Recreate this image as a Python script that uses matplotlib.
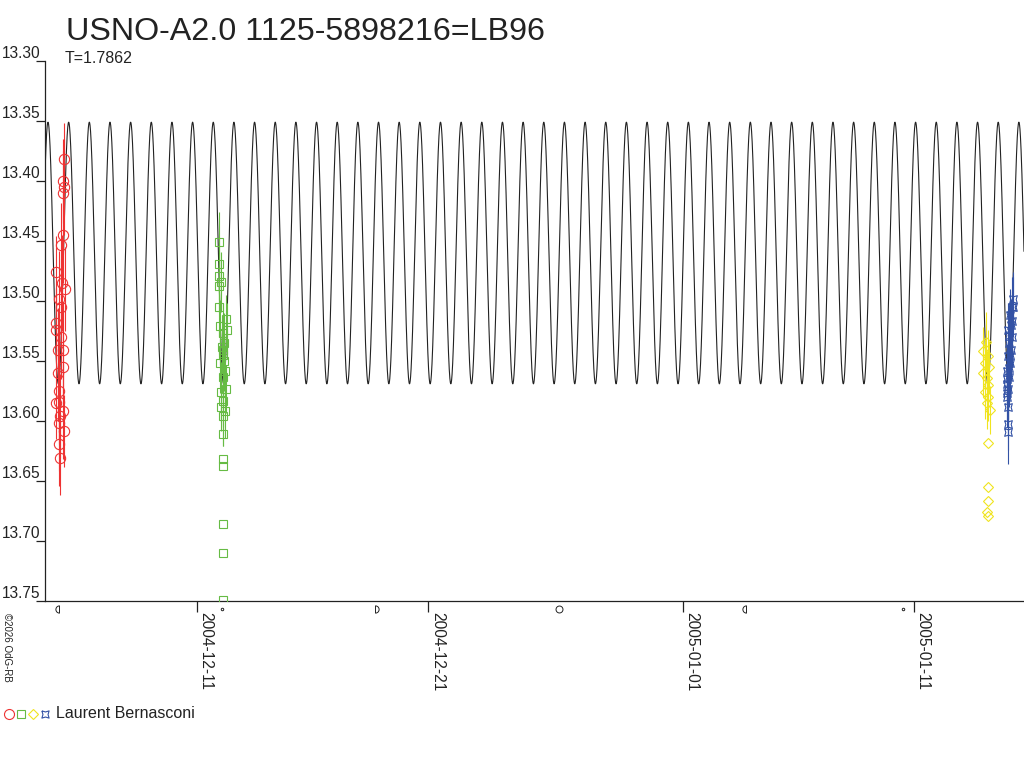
import numpy as np
import matplotlib
matplotlib.use("Agg")
import matplotlib.pyplot as plt
from matplotlib.path import Path
from matplotlib.transforms import Affine2D, blended_transform_factory
from matplotlib.lines import Line2D
from datetime import datetime

plt.rcParams['font.family'] = ['Liberation Sans', 'DejaVu Sans']

# ---------------- data ----------------
title = "USNO-A2.0 1125-5898216=LB96"
period_label = "T=1.7862"
observer = "Laurent Bernasconi"
copyright_txt = "\u00a92026 OdG-RB"

base_date = datetime(2004, 12, 11)          # t = days since this date (UT)
x_tick_dates = ["2004-12-11", "2004-12-21", "2005-01-01", "2005-01-11"]
y_ticks = [13.30, 13.35, 13.40, 13.45, 13.50, 13.55, 13.60, 13.65, 13.70, 13.75]
t_min, t_max = -6.572, 35.755

# fitted light-curve model (double wave, period T)
T_period = 1.7862
model_epoch = -6.442
model_mean = 13.460
model_semi_amp = 0.109

# moon phases (UT)
moon_last_q = ["2004-12-05 00:53", "2005-01-03 17:46"]
moon_new = ["2004-12-12 01:29", "2005-01-10 12:03"]
moon_first_q = ["2004-12-18 16:40"]
moon_full = ["2004-12-26 15:06"]

# observations: time (days since 2004-12-11), magnitude, error
red_t = [-5.750, -5.780, -5.750, -5.806, -5.806, -5.867, -6.096, -5.837, -5.720, -5.953,
         -6.096, -6.096, -5.780, -6.010, -5.780, -6.010, -5.979, -6.096, -5.780, -5.923,
         -5.979, -5.750, -5.979, -5.923, -5.900, -5.860, -5.950]
red_m = [13.382, 13.400, 13.405, 13.410, 13.445, 13.453, 13.476, 13.485, 13.490, 13.498,
         13.518, 13.524, 13.541, 13.541, 13.555, 13.560, 13.584, 13.585, 13.592, 13.596,
         13.602, 13.608, 13.619, 13.631, 13.505, 13.530, 13.575]
red_e = [0.030, 0.035, 0.040, 0.035, 0.040, 0.035, 0.030, 0.040, 0.035, 0.040,
         0.030, 0.035, 0.040, 0.035, 0.030, 0.040, 0.035, 0.030, 0.040, 0.035,
         0.040, 0.030, 0.035, 0.031, 0.040, 0.035, 0.040]

green_t = [0.951, 0.951, 0.951, 1.025, 0.951, 0.951, 0.994, 1.241, 1.284, 1.137,
           1.137, 0.994, 1.211, 1.137, 1.254, 1.025, 1.137, 1.025, 1.211, 1.137,
           1.111, 1.111, 1.111, 1.111, 1.111, 1.111, 1.150, 1.120, 1.160, 1.100]
green_m = [13.451, 13.469, 13.479, 13.484, 13.4875, 13.505, 13.521, 13.515, 13.524, 13.527,
           13.541, 13.552, 13.558, 13.563, 13.573, 13.576, 13.583, 13.588, 13.592, 13.596,
           13.611, 13.632, 13.6375, 13.686, 13.710, 13.749, 13.535, 13.545, 13.550, 13.538]
green_e = [0.025, 0.022, 0.020, 0.025, 0.022, 0.025, 0.022, 0.020, 0.022, 0.025,
           0.022, 0.025, 0.020, 0.022, 0.020, 0.025, 0.022, 0.020, 0.022, 0.025,
           0.010, 0.0, 0.0, 0.0, 0.0, 0.0, 0.025, 0.022, 0.025, 0.022]

yellow_t = [34.099, 33.995, 34.211, 34.068, 34.241, 33.995, 34.142, 34.211, 34.068, 34.211,
            34.142, 34.284, 34.185, 34.185, 34.185, 34.142, 34.185]
yellow_m = [13.534, 13.542, 13.546, 13.552, 13.555, 13.560, 13.564, 13.570, 13.576, 13.580,
            13.585, 13.591, 13.618, 13.655, 13.667, 13.676, 13.679]
yellow_e = [0.025, 0.020, 0.022, 0.020, 0.022, 0.020, 0.022, 0.020, 0.022, 0.020,
            0.022, 0.020, 0.0, 0.0, 0.0, 0.0, 0.0]

blue_t = [35.292, 35.223, 35.149, 35.249, 35.076, 35.223, 35.106, 35.193, 35.050, 35.149,
          35.006, 35.106, 35.006, 35.076, 35.019, 35.076, 35.050, 35.076,
          35.270, 35.200, 35.120, 35.160, 35.090, 35.040, 35.030]
blue_m = [13.498, 13.505, 13.512, 13.517, 13.524, 13.530, 13.535, 13.541, 13.546, 13.552,
          13.558, 13.563, 13.569, 13.573, 13.577, 13.588, 13.6025, 13.609,
          13.505, 13.520, 13.528, 13.545, 13.556, 13.565, 13.580]
blue_e = [0.022, 0.025, 0.022, 0.025, 0.022, 0.025, 0.022, 0.025, 0.022, 0.025,
          0.022, 0.025, 0.022, 0.025, 0.022, 0.025, 0.022, 0.027,
          0.025, 0.022, 0.025, 0.022, 0.025, 0.022, 0.025]

# ---------------- styles ----------------
RED = "#ee3333"
GREEN = "#66bb44"
YELLOW = "#f0e41e"
BLUE = "#3352a5"
INK = "#222222"

W, H = 1024, 768
fig = plt.figure(figsize=(W / 100, H / 100), dpi=100)
ax_l, ax_r, ax_t, ax_b = 45, 1024, 61, 601
ax = fig.add_axes([ax_l / W, 1 - ax_b / H, (ax_r - ax_l) / W, (ax_b - ax_t) / H])


def to_t(s):
    d = datetime.strptime(s, "%Y-%m-%d %H:%M") if " " in s else datetime.strptime(s, "%Y-%m-%d")
    return (d - base_date).total_seconds() / 86400.0


# model curve
tt = np.linspace(t_min, t_max, 8000)
mm = model_mean - model_semi_amp * np.cos(4 * np.pi * (tt - model_epoch) / T_period)
ax.plot(tt, mm, color=INK, lw=0.8, zorder=2)

# star marker for blue
star = [(0, 1), (0.35, 0.35), (1, 0), (0.35, -0.35), (0, -1), (-0.35, -0.35), (-1, 0), (-0.35, 0.35), (0, 1)]
star = [(x * np.cos(np.pi / 4) - y * np.sin(np.pi / 4), x * np.sin(np.pi / 4) + y * np.cos(np.pi / 4)) for x, y in star]

series = [
    (red_t, red_m, red_e, RED, 'o', 7.4),
    (green_t, green_m, green_e, GREEN, 's', 5.8),
    (yellow_t, yellow_m, yellow_e, YELLOW, 'D', 5.0),
    (blue_t, blue_m, blue_e, BLUE, star, 5.5),
]
for t, m, e, c, mk, ms in series:
    ax.errorbar(t, m, yerr=e, fmt='none', ecolor=c, elinewidth=0.8, capsize=0, zorder=3)
    ax.plot(t, m, linestyle='none', marker=mk, ms=ms, mfc='none', mec=c, mew=0.8, zorder=4)

ax.set_xlim(t_min, t_max)
ax.set_ylim(13.75, 13.30)

for s in ['top', 'right']:
    ax.spines[s].set_visible(False)
for s in ['left', 'bottom']:
    ax.spines[s].set_color(INK)
    ax.spines[s].set_linewidth(0.9)

ax.set_yticks(y_ticks)
ax.set_yticklabels([])
ax.tick_params(axis='y', direction='out', length=6.3, width=0.9, color=INK)
xt = [to_t(s) for s in x_tick_dates]
ax.set_xticks(xt)
ax.set_xticklabels([])
ax.tick_params(axis='x', direction='out', length=8, width=0.9, color=INK)

px_x = 1.0 / (ax_r - ax_l)
px_y = 1.0 / (ax_b - ax_t)
ytr = blended_transform_factory(ax.transAxes, ax.transData)
for v in y_ticks:
    ax.text(-4.5 * px_x, v, f"{v:.2f}", ha='right', va='bottom', fontsize=11.2,
            color=INK, transform=ytr, clip_on=False)

xtr = blended_transform_factory(ax.transData, ax.transAxes)
for s, v in zip(x_tick_dates, xt):
    ax.text(v + 1.5 / 23.13, -11 * px_y, s, rotation=270, ha='left', va='top',
            fontsize=11.2, color=INK, transform=xtr, clip_on=False)

# moon phase symbols
right_half = Path.unit_circle_righthalf()
left_half = right_half.transformed(Affine2D().rotate_deg(180))
ym = -7.5 * px_y
for s in moon_last_q:
    ax.plot([to_t(s)], [ym], marker=left_half, ms=5.2, mfc='none', mec=INK, mew=0.7,
            transform=xtr, clip_on=False)
for s in moon_first_q:
    ax.plot([to_t(s)], [ym], marker=right_half, ms=5.2, mfc='none', mec=INK, mew=0.7,
            transform=xtr, clip_on=False)
for s in moon_full:
    ax.plot([to_t(s)], [ym], marker='o', ms=5.0, mfc='none', mec=INK, mew=0.7,
            transform=xtr, clip_on=False)
for s in moon_new:
    ax.plot([to_t(s)], [ym], marker='o', ms=1.8, mfc='none', mec=INK, mew=0.7,
            transform=xtr, clip_on=False)

# title & annotations
fig.text(65.5 / W, 1 - 39.5 / H, title, fontsize=23.2, color=INK, ha='left', va='baseline')
fig.text(64.5 / W, 1 - 63 / H, period_label, fontsize=11.5, color=INK, ha='left', va='baseline')
fig.text(1.5 / W, 1 - 613 / H, copyright_txt, fontsize=7, color=INK, rotation=270,
         ha='left', va='top')

# legend
leg_y = 1 - 714 / H
leg_items = [(9.3, RED, 'o', 7.2), (21.3, GREEN, 's', 5.2), (33.3, YELLOW, 'D', 5.0), (44.7, BLUE, star, 5.2)]
for lx, c, mk, ms in leg_items:
    fig.add_artist(Line2D([lx / W], [leg_y], marker=mk, ms=ms, mfc='none', mec=c, mew=0.8,
                          linestyle='none', transform=fig.transFigure))
fig.text(56.5 / W, 1 - 718 / H, observer, fontsize=11.5, color=INK, ha='left', va='baseline')

fig.savefig("out.png", dpi=100)
